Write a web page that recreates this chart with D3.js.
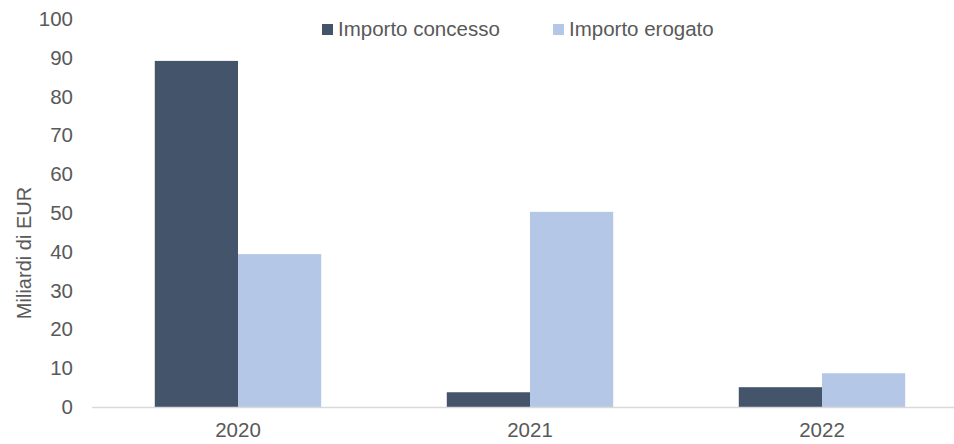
<!DOCTYPE html>
<html><head><meta charset="utf-8">
<script src="https://cdn.jsdelivr.net/npm/d3@7"></script>
<style>body{margin:0;background:#fff}svg{display:block}text{font-family:"Liberation Sans",Arial,sans-serif;fill:#595959}</style>
</head><body>
<svg id="c" width="954" height="444"></svg>
<script>
const categories = ["2020", "2021", "2022"];
const seriesNames = ["Importo concesso", "Importo erogato"];
const concesso = [89.2, 3.8, 5.1];
const erogato = [39.4, 50.3, 8.7];
const yTicks = [0, 10, 20, 30, 40, 50, 60, 70, 80, 90, 100];
const colors = ["#44546A", "#B4C7E7"];

const svg = d3.select("#c");
const x0 = d3.scaleBand().domain(categories).range([92, 968]).paddingInner(0.43).paddingOuter(0.215);
const x1 = d3.scaleBand().domain(seriesNames).range([0, x0.bandwidth()]);
const y = d3.scaleLinear().domain([0, 100]).range([407, 19]);

const data = categories.map((c, i) => ({cat: c, vals: [concesso[i], erogato[i]]}));

const g = svg.append("g");
g.selectAll("g.grp").data(data).join("g")
  .attr("transform", d => `translate(${x0(d.cat)},0)`)
  .selectAll("rect").data(d => d.vals.map((v, j) => ({v, s: seriesNames[j], j})))
  .join("rect")
  .attr("x", d => x1(d.s)).attr("width", x1.bandwidth())
  .attr("y", d => y(d.v)).attr("height", d => y(0) - y(d.v))
  .attr("fill", d => colors[d.j]);

// x axis line
svg.append("line").attr("x1", 92).attr("x2", 968).attr("y1", y(0)+0.5).attr("y2", y(0)+0.5)
  .attr("stroke", "#D9D9D9").attr("stroke-width", 1.5);

const FS = 20.5;
// y labels
const yAxis = d3.axisLeft(y).tickValues(yTicks).tickSize(0).tickPadding(0);
const ya = svg.append("g").attr("transform", "translate(73,0)").call(yAxis);
ya.select(".domain").remove();
ya.selectAll("text").attr("font-size", FS).attr("fill", "#595959").attr("font-family", '"Liberation Sans",Arial,sans-serif');

// x labels
const xAxis = d3.axisBottom(x0).tickSize(0).tickPadding(0);
const xa = svg.append("g").attr("transform", "translate(0,422)").call(xAxis);
xa.select(".domain").remove();
xa.selectAll("text").attr("font-size", FS).attr("fill", "#595959").attr("font-family", '"Liberation Sans",Arial,sans-serif');

// axis title
svg.append("text").attr("transform", "translate(31,253) rotate(-90)").attr("text-anchor", "middle")
  .attr("font-size", 20).text("Miliardi di EUR");

// legend
const legX = [322, 553];
seriesNames.forEach((s, i) => {
  svg.append("rect").attr("x", legX[i]).attr("y", 24).attr("width", 11).attr("height", 11).attr("fill", colors[i]);
  svg.append("text").attr("x", legX[i] + 16).attr("y", 36).attr("font-size", FS).text(s);
});
</script>
</body></html>
